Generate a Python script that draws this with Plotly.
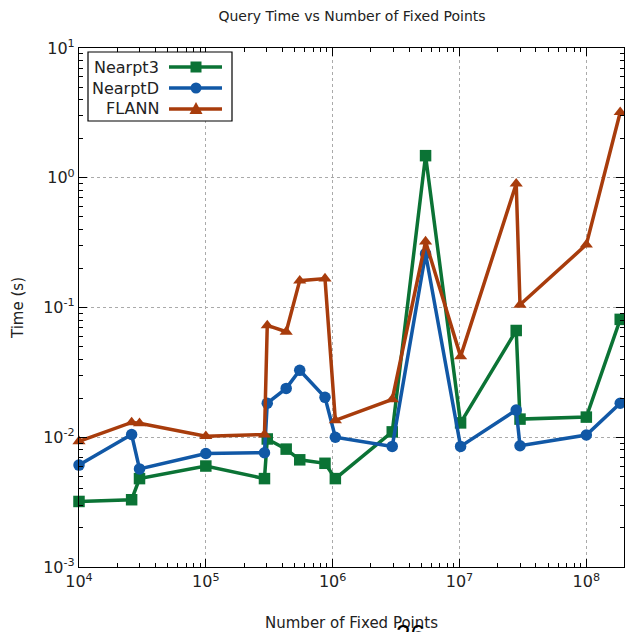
import plotly.graph_objects as go

# ---- data ----
fixed_points = [1.0e4, 2.6e4, 3.0e4, 1.0e5, 2.9e5, 3.05e5, 4.3e5, 5.5e5, 8.7e5,
                1.05e6, 2.95e6, 5.4e6, 1.02e7, 2.8e7, 3.0e7, 1.0e8, 1.85e8]
nearpt3 = [0.0032, 0.0033, 0.0048, 0.0060, 0.0048, 0.0097, 0.0081, 0.0067, 0.0063,
           0.0048, 0.0110, 1.48, 0.0129, 0.0665, 0.0138, 0.0143, 0.081]
nearptd = [0.0061, 0.0105, 0.0057, 0.0075, 0.0076, 0.0183, 0.0238, 0.0328, 0.0203,
           0.0100, 0.0085, 0.26, 0.0085, 0.0162, 0.0086, 0.0104, 0.0183]
flann = [0.0093, 0.0130, 0.0128, 0.0102, 0.0105, 0.0728, 0.065, 0.161, 0.167,
         0.0135, 0.0196, 0.322, 0.042, 0.90, 0.105, 0.305, 3.2]

series_names = ["Nearpt3", "NearptD", "FLANN"]
series_values = [nearpt3, nearptd, flann]
colors = ["#0b7335", "#1158a6", "#a83c0c"]
symbols = ["square", "circle", "triangle-up"]

x_tickvals = [1e4, 1e5, 1e6, 1e7, 1e8]
x_ticktext = ["10<sup>4</sup>", "10<sup>5</sup>", "10<sup>6</sup>", "10<sup>7</sup>", "10<sup>8</sup>"]
y_tickvals = [1e-3, 1e-2, 1e-1, 1e0, 1e1]
y_ticktext = ["10<sup>-3</sup>", "10<sup>-2</sup>", "10<sup>-1</sup>", "10<sup>0</sup>", "10<sup>1</sup>"]

x_minor = [m * 10 ** e for e in range(4, 9) for m in range(2, 10)]
y_minor = [m * 10 ** e for e in range(-3, 1) for m in range(2, 10)]

FONT = "DejaVu Sans"

fig = go.Figure()
for name, vals, c, s in zip(series_names, series_values, colors, symbols):
    fig.add_trace(go.Scatter(
        x=fixed_points, y=vals, name=name, mode="lines+markers",
        line=dict(color=c, width=3.5),
        marker=dict(symbol=s, size=11.5, color=c),
        showlegend=False, cliponaxis=False,
    ))

axis_common = dict(
    type="log", showline=True, linecolor="black", linewidth=1.2, mirror="ticks",
    ticks="inside", ticklen=8, tickcolor="black", tickwidth=1.2,
    showgrid=True, gridcolor="#aaaaaa", griddash="dot", gridwidth=1,
    zeroline=False,
    tickfont=dict(family=FONT, size=16, color="#222222"),
)

fig.update_xaxes(
    **axis_common, automargin=True, range=[4, 8.297], tickmode="array",
    tickvals=x_tickvals, ticktext=x_ticktext,
    minor=dict(ticks="inside", ticklen=4, tickcolor="black", showgrid=False, tickvals=x_minor),
    title=dict(text="Number of Fixed Points", font=dict(family=FONT, size=15, color="#222222"),
               standoff=27),
)
fig.update_yaxes(
    **axis_common, automargin=False, range=[-3, 1], tickmode="array",
    tickvals=y_tickvals, ticktext=y_ticktext,
    minor=dict(ticks="inside", ticklen=4, tickcolor="black", showgrid=False, tickvals=y_minor),
    title=dict(text="Time (s)", font=dict(family=FONT, size=15, color="#222222")),
)

# ---- geometry (page body margin removed in the html, see post_script) ----
W, H = 625, 632
ml, mt = 79, 48
mr = W - 624
mb = H - 567
pw, ph = W - ml - mr, H - mt - mb


def px(x):
    return (x - ml) / pw


def py(y):
    return 1 - (y - mt) / ph


# ---- legend box (text then line sample, as in the reference) ----
lx0, lx1, ly0, ly1 = 88, 232, 52, 121  # page pixel box
shapes = [dict(type="rect", xref="paper", yref="paper", x0=px(lx0), x1=px(lx1),
               y0=py(ly1), y1=py(ly0), line=dict(color="black", width=1.2),
               fillcolor="white", layer="above")]
annotations = []
rows_y = [67, 88, 109]
for name, c, s, ry in zip(series_names, colors, symbols, rows_y):
    annotations.append(dict(text=name, xref="paper", yref="paper", x=px(161), y=py(ry),
                            xanchor="right", yanchor="middle", showarrow=False,
                            font=dict(family=FONT, size=16, color="#222222")))
    shapes.append(dict(type="line", xref="paper", yref="paper", x0=px(169), x1=px(222),
                       y0=py(ry), y1=py(ry), line=dict(color=c, width=3.5), layer="above"))
    cx, cy, r = 196, ry, 5.5
    if s == "square":
        shapes.append(dict(type="rect", xref="paper", yref="paper", x0=px(cx - r), x1=px(cx + r),
                           y0=py(cy + r), y1=py(cy - r), fillcolor=c, line=dict(width=0), layer="above"))
    elif s == "circle":
        shapes.append(dict(type="circle", xref="paper", yref="paper", x0=px(cx - r), x1=px(cx + r),
                           y0=py(cy + r), y1=py(cy - r), fillcolor=c, line=dict(width=0), layer="above"))
    else:
        path = "M {} {} L {} {} L {} {} Z".format(px(cx - 6.5), py(cy + 5), px(cx + 6.5), py(cy + 5),
                                                 px(cx), py(cy - 7))
        shapes.append(dict(type="path", xref="paper", yref="paper", path=path, fillcolor=c,
                           line=dict(width=0), layer="above"))

# stray page number partly visible at the bottom edge
annotations.append(dict(text="26", xref="paper", yref="paper", x=px(410), y=py(617),
                        xanchor="center", yanchor="top", showarrow=False,
                        font=dict(family="Liberation Sans", size=26, color="black")))

fig.update_layout(
    width=W, height=H,
    margin=dict(l=ml, r=mr, t=mt, b=mb),
    paper_bgcolor="white", plot_bgcolor="white",
    title=dict(text="Query Time vs Number of Fixed Points", x=px(352), xanchor="center",
               y=1 - 16 / H, yanchor="middle", xref="paper",
               font=dict(family=FONT, size=14, color="#222222")),
    shapes=shapes, annotations=annotations,
)

fig.write_html(
    "out.html",
    config={"displayModeBar": False},
    post_script="document.body.style.margin='0';document.body.style.overflow='hidden';",
)
